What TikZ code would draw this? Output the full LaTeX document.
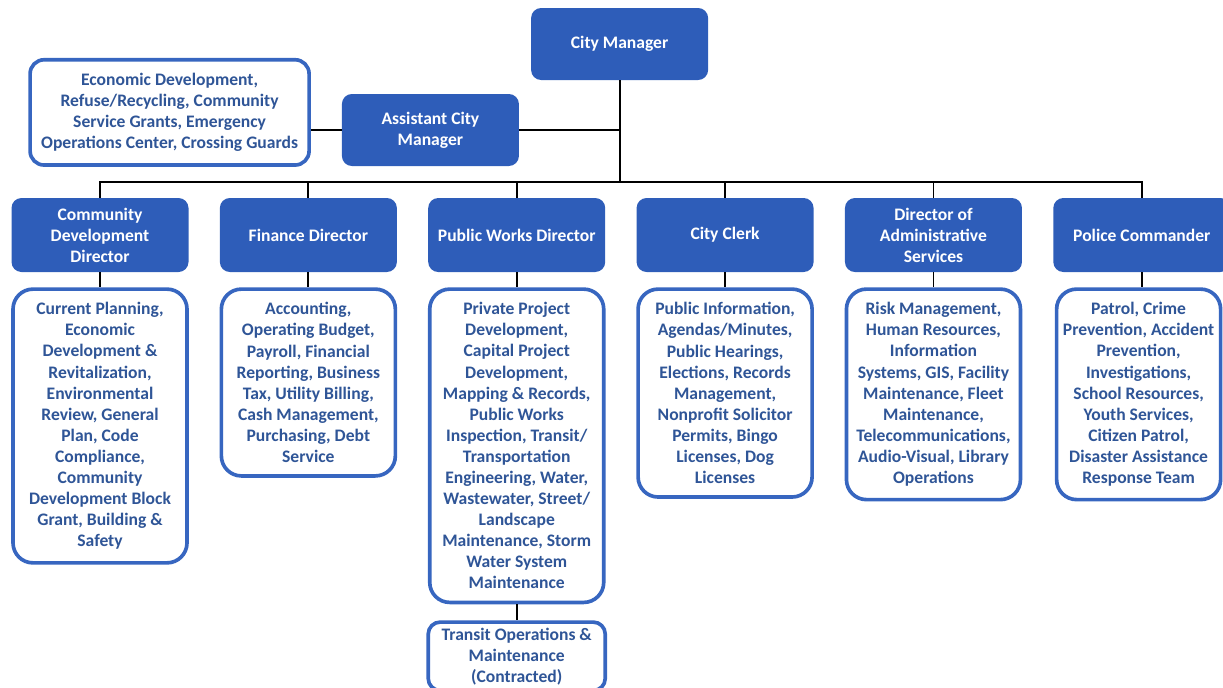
\documentclass[tikz,border=0pt]{standalone}
\usepackage{fontspec}
\setmainfont{Carlito}
\usetikzlibrary{positioning}
\definecolor{orgblu}{HTML}{2E5DB9}
\definecolor{orgrim}{HTML}{3766C0}
\definecolor{orgtxt}{HTML}{2F5597}

\begin{document}
\begin{tikzpicture}[
	head/.style={rectangle, rounded corners=0.25cm, fill=orgblu, text=white, font=\bfseries\fontsize{12.5}{15}\selectfont, align=center, minimum width=4.425cm, minimum height=1.85cm, inner sep=2pt},
	duty/.style={rectangle, rounded corners=0.5cm, draw=orgrim, line width=2.6pt, fill=white, text=orgtxt, font=\bfseries\fontsize{12.5}{15}\selectfont, align=center, minimum width=4.35cm, inner ysep=9.5pt},
	wire/.style={line width=1.3pt}
]
	\useasboundingbox (0,0) rectangle (30.575,-17.175);

	\node[head, minimum height=1.8cm] (cm) at (15.49,-1.1) {City Manager};
	\node[head, minimum height=1.8cm] (acm) at (10.76,-3.25) {Assistant City\\Manager};
	\node[duty, rounded corners=0.35cm, minimum width=6.975cm, minimum height=2.625cm] (acm-d) at (4.24,-2.81) {Economic Development,\\Refuse/Recycling, Community\\Service Grants, Emergency\\Operations Center, Crossing Guards};

	% department heads
	\node[head] (cdd) at (2.5,-5.875) {Community\\Development\\Director};
	\node[head, right=0.77cm of cdd] (fin) {Finance Director};
	\node[head, right=0.77cm of fin] (pwd) {Public Works Director};
	\node[head, right=0.77cm of pwd] (clk) {City Clerk};
	\node[head, right=0.77cm of clk] (das) {Director of\\Administrative\\Services};
	\node[head, right=0.77cm of das] (pol) {Police Commander};

	% duties
	\node[duty, below=0.375cm of cdd] (cdd-d) {Current Planning,\\Economic\\Development \&\\Revitalization,\\Environmental\\Review, General\\Plan, Code\\Compliance,\\Community\\Development Block\\Grant, Building \&\\Safety};
	\node[duty, below=0.375cm of fin] (fin-d) {Accounting,\\Operating Budget,\\Payroll, Financial\\Reporting, Business\\Tax, Utility Billing,\\Cash Management,\\Purchasing, Debt\\Service};
	\node[duty, below=0.375cm of pwd] (pwd-d) {Private Project\\Development,\\Capital Project\\Development,\\Mapping \& Records,\\Public Works\\Inspection, Transit/\\Transportation\\Engineering, Water,\\Wastewater, Street/\\Landscape\\Maintenance, Storm\\Water System\\Maintenance};
	\node[duty, below=0.375cm of clk] (clk-d) {Public Information,\\Agendas/Minutes,\\Public Hearings,\\Elections, Records\\Management,\\Nonprofit Solicitor\\Permits, Bingo\\Licenses, Dog\\Licenses};
	\node[duty, below=0.375cm of das] (das-d) {Risk Management,\\Human Resources,\\Information\\Systems, GIS, Facility\\Maintenance, Fleet\\Maintenance,\\Telecommunications,\\Audio-Visual, Library\\Operations};
	\node[duty, minimum width=4.1cm, inner xsep=1pt, below=0.375cm of pol, xshift=-0.08cm] (pol-d) {Patrol, Crime\\Prevention, Accident\\Prevention,\\Investigations,\\School Resources,\\Youth Services,\\Citizen Patrol,\\Disaster Assistance\\Response Team};
	\node[duty, rounded corners=0.3cm, minimum width=4.425cm, inner ysep=4pt, below=0.4cm of pwd-d] (trn) {Transit Operations \&\\Maintenance\\(Contracted)};

	\coordinate (bus) at (15.49,-4.55);
	\draw[wire] (cm) -- (bus);
	\foreach \n in {cdd,fin,pwd,clk,das,pol}
		\draw[wire] (\n.north) |- (bus);
	\foreach \n in {cdd,fin,pwd,clk,das,pol}
		\draw[wire] (\n.south) -- (\n.south |- \n-d.north);
	\draw[wire] (acm.east) -- (acm.east -| cm.south);
	\draw[wire] (acm.west) -- (acm.west -| acm-d.east);
	\draw[wire] (pwd-d) -- (trn);
\end{tikzpicture}
\end{document}
